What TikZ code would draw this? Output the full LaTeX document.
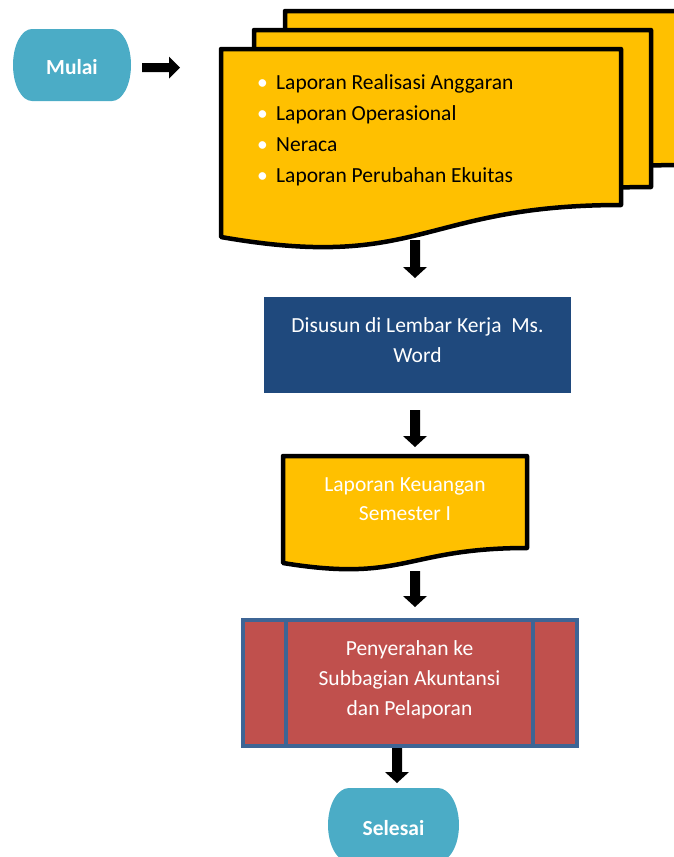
\documentclass[tikz,border=0pt]{standalone}
\usepackage{fontspec}
\setmainfont{Carlito}
\usetikzlibrary{calc}

\definecolor{termfill}{HTML}{4BACC6}
\definecolor{docfill}{HTML}{FFC000}
\definecolor{boxblue}{HTML}{1F497D}
\definecolor{procfill}{HTML}{C0504D}
\definecolor{procline}{HTML}{3E6595}

% terminator outline: centre x, centre y, width, height
\newcommand\termshape[4]{%
  \pgfmathsetmacro\trx{0.161*#3}%
  \pgfmathsetmacro\try{#4/2}%
  \fill[termfill] (#1-#3/2+\trx,#2+\try) -- (#1+#3/2-\trx,#2+\try)
    arc[start angle=90,end angle=-90,x radius=\trx,y radius=\try]
    -- (#1-#3/2+\trx,#2-\try)
    arc[start angle=270,end angle=90,x radius=\trx,y radius=\try] -- cycle;}

% document outline: left, top, right, bottom at right, bottom at left,
% depth of the wave's control points (all measured downwards)
\newcommand\docshape[6]{%
  \pgfmathsetmacro\dmid{(#1+#3)/2}%
  \filldraw[docstyle] (#1,-#2) -- (#3,-#2) -- (#3,-#4)
    .. controls (\dmid,-#4) and (\dmid,-#6) .. (#1,-#5) -- cycle;}

% thick block arrow pointing down: top coordinate, tip coordinate
\newcommand\blockdown[2]{%
  \fill ($(#1)+(-5,0)$) -- ($(#2)+(-5,11)$) -- ($(#2)+(-12,11)$) -- (#2)
    -- ($(#2)+(12,11)$) -- ($(#2)+(5,11)$) -- ($(#1)+(5,0)$) -- cycle;}

\newcommand\bul{\makebox[19pt][l]{\textcolor{white}{•}}}

\tikzset{
  docstyle/.style={fill=docfill,draw=black,line width=4.5pt,line join=round},
  wtext/.style={text=white,align=center,inner sep=0pt},
}

\begin{document}
\begin{tikzpicture}[x=1pt,y=1pt]
\useasboundingbox (0,0) rectangle (674,-857);
\clip (0,0) rectangle (674,-857);

% start terminator
\termshape{72}{-65}{118}{72}
\node[wtext,font=\fontsize{21.5}{24}\selectfont\bfseries] (mulai) at (72,-67) {Mulai};

% arrow to the document stack
\coordinate (r0) at (142,-67.5);
\coordinate (r1) at (180,-67.5);
\fill ($(r0)+(0,4.5)$) -- ($(r1)+(-11,4.5)$) -- ($(r1)+(-11,11)$) -- (r1)
  -- ($(r1)+(-11,-11)$) -- ($(r1)+(-11,-4.5)$) -- ($(r0)+(0,-4.5)$) -- cycle;

% stacked documents
\docshape{285}{11}{683}{165}{190}{224}
\docshape{254}{30}{651}{187}{213}{247}
\docshape{221}{49}{621}{205}{237}{272}
\node[anchor=west,align=left,inner sep=0pt,font=\fontsize{21.5}{31}\selectfont] (items) at (257,-130.5)
  {\bul Laporan Realisasi Anggaran\\ \bul Laporan Operasional\\ \bul Neraca\\ \bul Laporan Perubahan Ekuitas};

% arrow 1
\coordinate (a1s) at (415,-240);
\coordinate (a1e) at (415,-278);
\blockdown{a1s}{a1e}

% word processing step
\node[fill=boxblue,minimum width=307pt,minimum height=96pt,inner sep=0pt] (word) at (417.5,-345) {};
\node[wtext,font=\fontsize{21.5}{30}\selectfont] (wordtxt) at (417.5,-340) {Disusun di Lembar Kerja\ \ Ms.\\Word};

% arrow 2
\coordinate (a2s) at (415,-410);
\coordinate (a2e) at (415,-447);
\blockdown{a2s}{a2e}

% financial report document
\docshape{283}{456}{527}{548}{563}{583}
\node[wtext,font=\fontsize{21.5}{29}\selectfont] (lk) at (405,-499) {Laporan Keuangan\\Semester I};

% arrow 3
\coordinate (a3s) at (415,-571);
\coordinate (a3e) at (415,-607);
\blockdown{a3s}{a3e}

% predefined process
\filldraw[fill=procfill,draw=procline,line width=4.5pt] (243,-620) rectangle (577,-746);
\draw[procline,line width=4.5pt] (286,-620) -- (286,-746) (533,-620) -- (533,-746);
\node[wtext,font=\fontsize{21.5}{30}\selectfont] (serah) at (409.5,-680) {Penyerahan ke\\Subbagian Akuntansi\\dan Pelaporan};

% arrow 4
\coordinate (a4s) at (397,-748);
\coordinate (a4e) at (397,-783);
\blockdown{a4s}{a4e}

% end terminator
\termshape{393.5}{-825}{131}{74}
\node[wtext,font=\fontsize{21.5}{24}\selectfont\bfseries] (selesai) at (393.5,-828) {Selesai};
\end{tikzpicture}
\end{document}
